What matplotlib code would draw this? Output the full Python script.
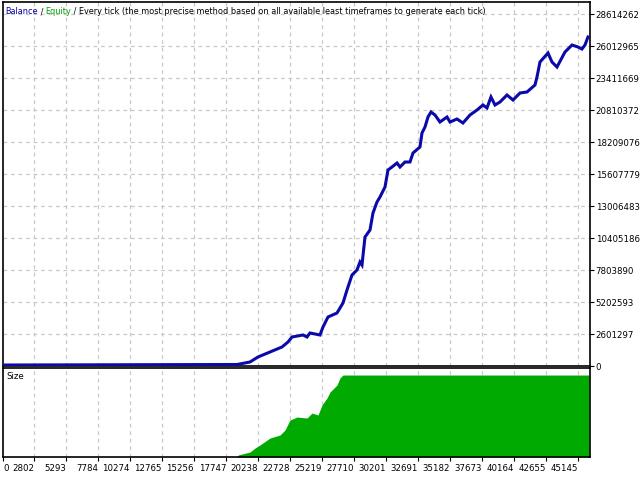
import matplotlib
matplotlib.use("Agg")
import matplotlib.pyplot as plt

# balance curve (deal number, balance)
deals = [389, 18602, 19613, 20236, 21170, 22104, 22571, 22882, 23738, 24050,
         24283, 25061, 25295, 25684, 26384, 26851, 27163, 27552, 27941, 28175,
         28330, 28564, 28953, 29186, 29498, 29731, 30120, 30354, 30665, 31054,
         31288, 31677, 32066, 32300, 32844, 33000, 33234, 33467, 33701, 34012,
         34401, 34946, 35179, 35724, 36191, 36736, 37281, 37748, 38059, 38370,
         38682, 39071, 39616, 40083, 40627, 41172, 41795, 41950, 42184, 42807,
         43118, 43507, 44130, 44675, 45142, 45453, 45686, 45920]
balance = [81000, 122000, 325000, 732000, 1138000, 1545000, 1951000, 2357000, 2520000, 2357000,
           2683000, 2520000, 3170000, 3983000, 4308000, 5121000, 6178000, 7397000, 7804000, 8454000,
           8210000, 10487000, 11056000, 12437000, 13332000, 13738000, 14551000, 15933000, 16177000, 16502000,
           16177000, 16583000, 16583000, 17315000, 17803000, 18941000, 19428000, 20241000, 20648000, 20404000,
           19835000, 20241000, 19835000, 20079000, 19754000, 20404000, 20810000, 21217000, 20973000, 21867000,
           21217000, 21461000, 22030000, 21623000, 22192000, 22274000, 22843000, 23493000, 24712000, 25444000,
           24712000, 24306000, 25525000, 26094000, 25932000, 25769000, 26094000, 26745000]

# lot size profile (relative)
size_x = [389, 18600, 18680, 19613, 20002, 20391, 21170, 21948, 22337, 22726, 23271, 24050,
          24439, 24906, 25217, 25606, 25840, 26384, 26618, 26851, 45998]
size_v = [0.0, 0.0, 0.022, 0.056, 0.10, 0.135, 0.213, 0.247, 0.303, 0.416, 0.449, 0.438,
          0.494, 0.472, 0.584, 0.663, 0.730, 0.809, 0.888, 0.921, 0.921]

x_ticks = [2802, 5293, 7784, 10274, 12765, 15256, 17747, 20238, 22728, 25219,
           27710, 30201, 32691, 35182, 37673, 40164, 42655, 45145]
y_ticks = [0, 2601297, 5202593, 7803890, 10405186, 13006483, 15607779,
           18209076, 20810372, 23411669, 26012965, 28614262]

X_MIN, X_MAX = 389, 46077
Y_MAX = 29590000

W, H = 640, 480
fig = plt.figure(figsize=(6.4, 4.8), dpi=100)
plt.rcParams["font.family"] = "DejaVu Sans"
fs = 6.2

def px_axes(x0, y0, x1, y1):
    return fig.add_axes([x0 / W, 1 - y1 / H, (x1 - x0) / W, (y1 - y0) / H])

grid_kw = dict(color="#C8C8C8", linestyle=(0, (3, 3)), linewidth=0.9)

# ---- balance panel
ax = px_axes(3, 2, 590, 366)
ax.set_xlim(X_MIN, X_MAX)
ax.set_ylim(0, Y_MAX)
for t in x_ticks:
    ax.axvline(t, **grid_kw, zorder=0)
for t in y_ticks[1:]:
    ax.axhline(t, **grid_kw, zorder=0)
ax.plot(deals, balance, color="#0A0AAA", linewidth=2.2, solid_joinstyle="miter", zorder=3)
ax.yaxis.tick_right()
ax.set_yticks(y_ticks)
ax.set_yticklabels([str(v) for v in y_ticks], fontsize=fs)
ax.tick_params(axis="y", length=3, width=0.8, pad=1, direction="out")
ax.set_xticks([])
for s in ax.spines.values():
    s.set_linewidth(1.2)

# header text in three colours
parts = [("Balance", "#0000A0"), (" / ", "black"), ("Equity", "#00A000"),
         (" / Every tick (the most precise method based on all available least timeframes to generate each tick)", "black")]
fig.canvas.draw()
renderer = fig.canvas.get_renderer()
xpos = 5
for txt, col in parts:
    t = fig.text(xpos / W, 1 - 12 / H, txt, color=col, fontsize=5.9, va="center", ha="left")
    bb = t.get_window_extent(renderer=renderer)
    xpos += bb.width

# ---- size panel
ax2 = px_axes(3, 368, 590, 457)
ax2.set_xlim(X_MIN, X_MAX)
ax2.set_ylim(0, 1)
for t in x_ticks:
    ax2.axvline(t, **grid_kw, zorder=0)
ax2.fill_between(size_x, size_v, color="#00AA00", linewidth=0, zorder=2)
ax2.set_yticks([])
ax2.set_xticks([X_MIN] + x_ticks)
ax2.set_xticklabels(["0"] + [str(v) for v in x_ticks], fontsize=fs, ha="right")
ax2.tick_params(axis="x", length=3, width=0.8, pad=2)
ax2.get_xticklabels()[0].set_horizontalalignment("left")
ax2.text(0.005, 0.9, "Size", transform=ax2.transAxes, fontsize=fs, va="center", ha="left")
for s in ax2.spines.values():
    s.set_linewidth(1.2)

fig.savefig("out.png", dpi=100)
